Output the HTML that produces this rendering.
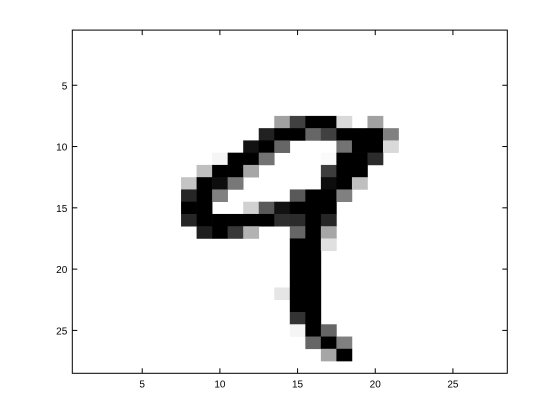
<!DOCTYPE html>
<html><head><meta charset="utf-8"><style>
body{margin:0;background:#fff;}
svg{display:block;font-family:"Liberation Sans",sans-serif;font-size:10px;}
</style></head><body>
<svg id="chart" width="560" height="419" viewBox="0 0 560 419">
<rect x="0" y="0" width="560" height="419" fill="#fff"/>
<g id="cells"></g>
<g id="axes"></g>
</svg>
<script>
// pixel data: rows (1-based), columns (1-based), intensities 0..1 (1 = black)
const pixelRows = [8,8,8,8,8,8, 9,9,9,9,9,9,9,9,9, 10,10,10,10,10,10,10, 11,11,11,11,11,11,11,11, 12,12,12,12,12,12,12, 13,13,13,13,13,13,13, 14,14,14,14,14,14,14, 15,15,15,15,15,15,15,15, 16,16,16,16,16,16,16,16,16,16, 17,17,17,17,17,17,17, 18,18,18, 19,19, 20,20, 21,21, 22,22,22, 23,23, 24,24, 25,25,25, 26,26,26, 27,27];
const pixelCols = [14,15,16,17,18,20, 13,14,15,16,17,18,19,20,21, 12,13,14,18,19,20,21, 10,11,12,13,17,18,19,20, 9,10,11,12,17,18,19, 8,9,10,11,17,18,19, 8,9,10,15,16,17,18, 8,9,12,13,14,15,16,17, 8,9,10,11,12,13,14,15,16,17, 9,10,11,12,15,16,17, 15,16,17, 15,16, 15,16, 15,16, 14,15,16, 15,16, 15,16, 15,16,17, 16,17,18, 17,18];
const pixelVals = [0.37,0.75,1,1,0.15,0.37, 0.87,1,1,0.6,0.75,1,1,1,0.5, 0.93,1,0.6,0.55,1,1,0.15, 0.04,1,1,0.55,0.02,1,1,0.83, 0.25,1,1,0.35,0.76,1,1, 0.23,1,0.95,0.53,0.95,1,0.25, 0.85,1,0.5,0.65,1,1,0.5, 1,1,0.18,0.65,0.93,1,1,1, 0.85,1,1,1,1,1,0.82,0.83,1,0.85, 0.88,1,0.78,0.3,0.6,1,0.35, 1,1,0.12, 1,1, 1,1, 1,1, 0.1,1,1, 1,1, 0.8,1, 0.04,1,0.6, 0.6,1,0.5, 0.35,1];
const xTicks = [5,10,15,20,25];
const yTicks = [5,10,15,20,25];
const L=72.3,R=507.3,T=30.1,B=373.3;
const sx=v=>L+(v-0.5)*(R-L)/28;
const sy=v=>T+(v-0.5)*(B-T)/28;
const NS="http://www.w3.org/2000/svg";
const cells=document.getElementById('cells');
for(let i=0;i<pixelVals.length;i++){
  const r=document.createElementNS(NS,'rect');
  const c=pixelCols[i], rw=pixelRows[i];
  r.setAttribute('x',sx(c-0.5));r.setAttribute('y',sy(rw-0.5));
  r.setAttribute('width',sx(c+0.5)-sx(c-0.5)+0.3);r.setAttribute('height',sy(rw+0.5)-sy(rw-0.5)+0.3);
  const g=Math.round(255*(1-pixelVals[i]));
  r.setAttribute('fill',`rgb(${g},${g},${g})`);
  
  
  cells.appendChild(r);
}
const axes=document.getElementById('axes');
function add(tag,attrs,text){const e=document.createElementNS(NS,tag);for(const k in attrs)e.setAttribute(k,attrs[k]);if(text!=null)e.textContent=text;axes.appendChild(e);return e;}
const frame=add('rect',{x:L,y:T,width:R-L,height:B-T,fill:'none',stroke:'#000','stroke-width':1});


xTicks.forEach(v=>{
  const x=sx(v);
  const t1=add('line',{x1:x,x2:x,y1:B,y2:B-5,stroke:'#000'});
  
  
  const t2=add('line',{x1:x,x2:x,y1:T,y2:T+5,stroke:'#000'});
  
  
  const lb=add('text',{x:x,y:B+14,'text-anchor':'middle'},String(v));
  
  
});
yTicks.forEach(v=>{
  const y=sy(v);
  const t1=add('line',{x1:L,x2:L+5,y1:y,y2:y,stroke:'#000'});
  
  
  const t2=add('line',{x1:R,x2:R-5,y1:y,y2:y,stroke:'#000'});
  
  
  const lb=add('text',{x:L-5,y:y+4,'text-anchor':'end'},String(v));
  
  
});
</script>
</body></html>
